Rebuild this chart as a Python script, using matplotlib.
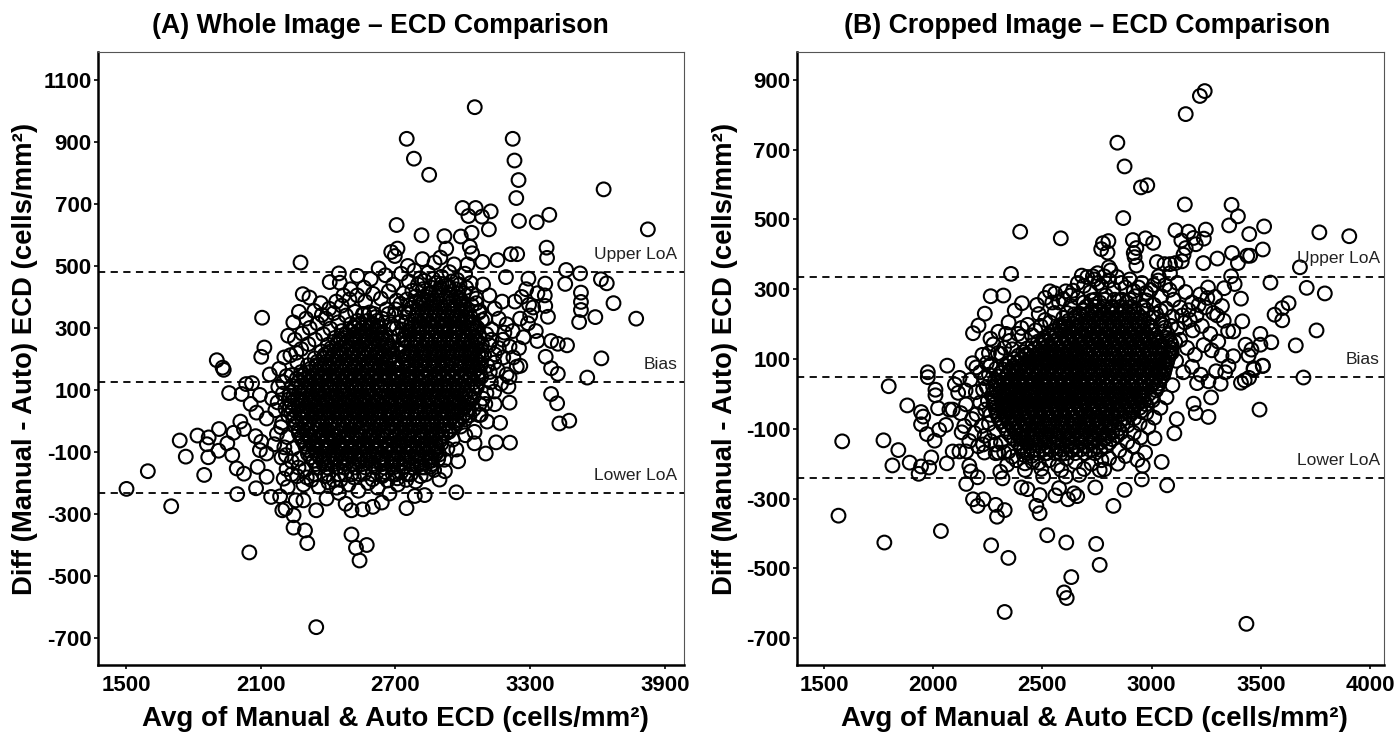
import matplotlib
matplotlib.use("Agg")
import matplotlib.pyplot as plt

plt.rcParams['font.family'] = ['Liberation Sans', 'DejaVu Sans']
plt.rcParams['axes.unicode_minus'] = False

# panel A, single circles (avg, diff)
a_sparse = [
    (3053,1012),(2750,910),(2782,846),(2850,794),(3222,910),(3230,840),(3248,777),(3238,719),(3250,645),
    (3329,641),(3385,665),(3627,747),(3824,618),(2999,687),(3025,661),(3057,687),(3085,659),(3124,676),
    (3116,618),(3039,607),(2991,595),(2918,596),(2816,599),(2705,632),(3031,562),(3041,541),(2926,556),
    (2709,556),(2681,545),(2697,532),(3214,538),(3242,538),(3373,559),(3375,526),(2277,511),(2820,522),
    (2900,527),(2874,511),(2961,505),(3021,505),(3087,513),(3154,519),(2755,500),(3460,487),(3522,476),
    (3615,457),(3641,444),(3456,442),(3671,380),(3772,330),(3590,335),(3518,319),(3526,414),(3526,384),
    (3526,358),(3367,443),(3365,405),(3192,464),(3292,459),(3282,425),(3332,412),(3367,371),(3313,366),
    (3379,336),(3393,258),(3423,249),(3464,244),(3617,202),(3369,207),(3332,258),(2106,333),(2448,476),
    (2407,448),(2452,446),(2287,409),(2317,398),(2367,380),(2116,237),(2102,207),(1904,196),(1930,172),
    (1502,-219),(1597,-162),(1701,-275),(1739,-63),(1766,-115),(1848,-174),(1818,-47),(1868,-53),(1860,-75),
    (1866,-117),(1912,-96),(1914,-26),(1935,165),(1959,90),(1951,-72),(1973,-110),(1979,-38),(2009,-2),
    (2025,-26),(1993,-153),(2025,-170),(1995,-236),(2079,-217),(2049,-424),(2077,-49),(2015,87),(2035,119),
    (2061,122),(2096,84),(2055,55),(2081,27),(2126,8),(2102,-67),(2096,-94),(2126,-105),(2086,-148),
    (2126,-180),(2146,-245),(2186,-243),(2202,-186),(2220,-213),(2196,-288),(2210,-283),(2246,-304),
    (2246,-344),(2297,-353),(2307,-394),(2256,-256),(2290,-256),(2347,-288),(2393,-250),(2448,-232),
    (2478,-267),(2504,-288),(2554,-285),(2599,-277),(2639,-263),(2673,-234),(2749,-281),(2786,-242),
    (2830,-239),(2971,-230),(2504,-366),(2572,-400),(2524,-409),(2540,-450),(2347,-665),(2896,-189),
    (2920,-162),(2979,-130),(2890,-123),(2884,-97),(2971,-92),(2931,-89),(3102,-105),(3052,-72),(3148,-69),
    (3210,-70),(3166,-6),(3108,-2),(3072,19),(3142,54),(3208,59),(3203,111),(3208,141),(3256,178),(3393,170),
    (3423,152),(3554,140),(3393,87),(3420,57),(3430,-8),(3474,1),(3011,-46),(3052,-35),
]

# panel A, the looser ring round the black centre
a_ring = [
    (2190,-20),(2165,35),(2150,72),(2178,110),(2140,150),(2182,168),(2205,205),(2160,-75),(2192,-118),
    (2215,-155),(2238,-130),(2262,-178),(2290,-205),(2325,-190),(2358,-212),(2402,-198),(2438,-215),
    (2490,-205),(2535,-225),(2578,-200),(2620,-215),(2665,-192),(2710,-205),(2748,-190),(2790,-195),
    (2835,-172),(2872,-158),(2918,-125),(2955,-60),(2990,-18),(3030,18),(3075,55),(3105,90),(3125,125),
    (3155,165),(3180,205),(3142,215),(3118,245),(3178,262),(3208,240),(3222,290),(3195,312),(3160,330),
    (3128,295),(3100,330),(3142,362),(3175,385),(3118,405),(3090,440),(3060,395),(3035,445),(3010,475),
    (2975,455),(2940,480),(2905,465),(2880,445),(2845,478),(2810,460),(2785,485),(2760,450),(2725,475),
    (2690,440),(2655,470),(2625,492),(2590,458),(2560,430),(2530,468),(2500,425),(2468,405),(2436,385),
    (2405,362),(2372,342),(2338,355),(2302,330),(2270,352),(2245,318),(2222,275),(2252,262),(2285,282),
    (2318,300),(2352,315),(2390,330),(2425,348),(2460,372),(2495,392),(2530,405),(2565,385),(2600,410),
    (2635,395),(2670,418),(2705,388),(2735,412),(2660,360),(2695,342),(2725,322),(2690,298),(2715,275),
    (3225,205),(3240,175),(3195,150),(3170,120),(3140,95),(3100,55),(3080,20),(3250,235),(3270,270),
    (3255,330),(3290,315),(3325,290),(3300,340),(3232,385),(3262,400),(3295,375),
    (2210,40),(2228,82),(2200,125),(2238,148),(2262,190),(2232,212),(2218,-52),(2245,-88),(2205,-85),
    (2272,-122),(2298,-158),(2342,-172),(2385,-178),(2455,-190),(2515,-182),(2560,-170),(2640,-178),
    (2688,-172),(2725,-165),(2815,-150),(2862,-128),(2905,-72),(2938,-35),(2968,0),(3005,42),(3038,70),
    (3062,108),(3082,142),(3110,178),(3095,212),(3128,262),(3105,280),(3072,350),(3040,372),(3005,412),
    (2968,425),(2930,438),(2895,420),(2858,410),(2822,425),(2790,402),(2765,375),(2742,350),
    (2640,210),(2665,232),(2690,255),(2712,228),(2735,262),(2655,280),(2680,312),(2705,300),(2730,295),
    (2748,318),(2620,305),(2642,330),(2668,345),(2700,360),(2722,378),(2752,392),(2640,262),(2610,335),
    (2585,350),(2555,345),(2520,352),(2480,340),(2445,318),(2410,298),(2378,280),(2342,262),(2312,248),
    (2280,232),(2258,220),(2760,345),(2775,420),(2800,440),(2830,452),(2868,458),(2905,442),(2950,450),
    (2985,440),(3015,430),(3040,410),(3060,380),(3075,355),(3085,325),(2770,365),(2790,385),(2815,395),
    (3000,380),(3020,360),(3035,335),(3050,315),(3065,300),(2985,395),(2672,198),(2700,190),(2655,172),
    (2175,60),(2198,88),(2215,145),(2172,-42),(2195,-5),(2222,18),(2212,-110),(2238,-172),(2268,-150),
    (2305,-182),(2425,-190),(2475,-172),(2598,-188),(2655,-165),(2708,-185),(2768,-172),(2812,-178),
    (2855,-148),(2895,-108),(3010,5),(3048,38),(3090,72),(3120,158),(3140,188),(3160,235),(3185,285),
]

a_core_diff = [-150,-128,-106,-84,-62,-40,-18,4,26,48,70,92,114,136,158,180,202,224,246,268,290,312,334,356,378,400,430]
a_core_avg = [
    [2360,2395,2440,2470,2520,2565,2610,2650,2690,2735,2780,2830],
    [2335,2375,2410,2455,2490,2540,2575,2625,2660,2705,2750,2800,2850],
    [2310,2350,2385,2425,2460,2500,2545,2585,2620,2670,2710,2755,2795,2840,2880],
    [2300,2335,2370,2405,2445,2480,2520,2555,2595,2635,2675,2720,2760,2800,2845,2885],
    [2285,2320,2355,2390,2430,2465,2500,2540,2575,2615,2650,2695,2735,2775,2815,2860,2900],
    [2270,2305,2345,2380,2415,2450,2490,2525,2565,2600,2640,2680,2720,2760,2800,2840,2885,2925],
    [2255,2295,2330,2365,2405,2440,2480,2515,2550,2590,2630,2665,2705,2745,2790,2830,2870,2915,2955],
    [2245,2285,2320,2355,2395,2430,2470,2505,2545,2580,2620,2660,2700,2740,2780,2820,2860,2905,2945,2985],
    [2235,2275,2310,2350,2385,2425,2460,2500,2535,2575,2610,2650,2690,2730,2770,2810,2855,2895,2935,2975,3015],
    [2230,2270,2305,2345,2380,2420,2455,2495,2530,2570,2605,2645,2685,2725,2765,2805,2850,2890,2930,2970,3010],
    [2225,2265,2300,2340,2375,2415,2450,2490,2525,2565,2600,2640,2680,2720,2760,2800,2845,2885,2925,2965,3005,3040],
    [2232,2272,2310,2348,2385,2422,2460,2498,2535,2572,2610,2648,2688,2728,2768,2808,2852,2892,2932,2972,3012,3050],
    [2240,2280,2318,2355,2392,2430,2468,2505,2542,2580,2618,2655,2695,2735,2775,2815,2858,2898,2938,2980,3020,3060],
    [2260,2298,2335,2372,2410,2448,2485,2522,2560,2598,2635,2672,2712,2752,2792,2835,2875,2915,2955,2995,3035,3070],
    [2280,2318,2355,2392,2430,2468,2505,2542,2580,2618,2655,2695,2735,2775,2815,2855,2895,2935,2975,3015,3050,3075],
    [2310,2348,2385,2422,2460,2498,2535,2572,2610,2650,2690,2730,2770,2810,2850,2890,2930,2970,3010,3045,3080],
    [2340,2378,2415,2452,2490,2528,2565,2602,2640,2678,2740,2780,2820,2860,2900,2940,2980,3020,3055,3085],
    [2370,2408,2445,2482,2520,2558,2595,2632,2670,2735,2775,2815,2855,2895,2935,2975,3015,3050,3085],
    [2400,2438,2475,2512,2550,2588,2625,2660,2730,2770,2810,2850,2890,2930,2970,3010,3045,3085],
    [2430,2468,2505,2542,2580,2615,2640,2740,2780,2820,2860,2900,2940,2980,3020,3055,3075],
    [2460,2498,2535,2572,2620,2760,2800,2840,2880,2920,2960,3000,3035,3060],
    [2500,2540,2600,2770,2810,2850,2890,2930,2970,3005,3040],
    [2790,2830,2870,2910,2950,2985,3020],
    [2800,2840,2880,2920,2960,3000],
    [2820,2860,2900,2945,2990],
    [2840,2885,2925,2970],
    [2860,2900,2940],
]

# second pass over panel A's cloud, rows between the first ones
a_core2_diff = [-172,-139,-117,-95,-73,-51,-29,-7,15,37,59,81,103,125,147,169,191,213,235,257,279,301,323,345,367,389,411]
a_core2_avg = [
    [2400,2447,2503,2541,2598,2643,2702,2752],
    [2345,2388,2427,2478,2512,2552,2598,2641,2682,2722,2771,2815,2862],
    [2322,2362,2402,2438,2477,2518,2557,2602,2643,2688,2730,2773,2818,2860],
    [2312,2347,2392,2432,2468,2510,2537,2568,2608,2652,2692,2738,2778,2822,2868],
    [2295,2332,2372,2411,2448,2483,2522,2558,2597,2631,2672,2713,2752,2797,2838,2881],
    [2282,2316,2361,2398,2433,2471,2507,2546,2582,2621,2661,2703,2741,2782,2821,2866,2908],
    [2268,2308,2349,2386,2422,2459,2498,2533,2571,2611,2648,2686,2727,2766,2811,2851,2893,2938],
    [2258,2302,2338,2374,2413,2449,2487,2526,2561,2601,2639,2681,2721,2761,2801,2842,2883,2926,2971],
    [2250,2292,2329,2368,2404,2442,2481,2518,2556,2593,2631,2671,2711,2752,2791,2833,2874,2916,2957,2999],
    [2242,2287,2324,2363,2399,2438,2477,2513,2552,2588,2627,2667,2707,2747,2787,2829,2871,2911,2951,2992,3028],
    [2238,2283,2321,2358,2396,2433,2472,2509,2547,2583,2622,2662,2702,2741,2783,2827,2866,2907,2947,2988,3024],
    [2246,2286,2326,2362,2403,2438,2476,2516,2553,2591,2629,2668,2709,2748,2788,2831,2872,2912,2953,2993,3033],
    [2252,2296,2334,2372,2409,2449,2484,2523,2561,2599,2636,2676,2716,2756,2796,2838,2878,2919,2959,3001,3042],
    [2268,2309,2346,2383,2421,2458,2496,2533,2571,2609,2647,2686,2724,2764,2806,2846,2887,2926,2967,3007,3049],
    [2291,2331,2367,2404,2442,2479,2516,2553,2592,2632,2671,2712,2752,2793,2834,2873,2913,2953,2994,3033,3066],
    [2322,2362,2398,2436,2473,2511,2549,2587,2624,2664,2708,2751,2791,2829,2869,2909,2949,2991,3029,3063],
    [2352,2391,2428,2466,2504,2541,2579,2617,2656,2694,2748,2792,2832,2872,2912,2952,2994,3034,3069],
    [2384,2422,2459,2497,2534,2572,2610,2648,2684,2752,2791,2831,2871,2911,2953,2992,3031,3068],
    [2413,2452,2489,2527,2565,2603,2641,2674,2745,2786,2826,2866,2908,2947,2987,3027,3063],
    [2445,2483,2522,2560,2597,2630,2662,2752,2794,2836,2876,2915,2956,2997,3036,3067],
    [2478,2516,2555,2595,2638,2765,2806,2846,2888,2927,2967,3006,3042],
    [2513,2552,2592,2630,2778,2818,2860,2901,2941,2980,3018,3050],
    [2530,2575,2618,2785,2825,2865,2905,2943,2978,3012],
    [2560,2605,2795,2836,2875,2915,2952,2993],
    [2808,2850,2890,2932,2975,3008],
    [2825,2868,2912,2955,2992],
    [2848,2892,2935,2978],
]

# third pass, centre of panel A only
a_core3_diff = [-122,-80,-46,-12,31,66,101,143,176,218,262,301]
a_core3_avg = [
    [2380,2432,2481,2533,2587,2638,2691,2742,2797],
    [2347,2396,2451,2503,2562,2611,2668,2717,2769,2821],
    [2318,2373,2424,2483,2531,2587,2643,2702,2752,2813,2862],
    [2301,2358,2412,2467,2522,2574,2633,2688,2748,2803,2861,2918],
    [2288,2344,2401,2458,2511,2568,2626,2678,2737,2796,2851,2909,2962],
    [2281,2337,2396,2451,2509,2561,2619,2677,2733,2792,2847,2906,2958],
    [2296,2352,2407,2462,2521,2578,2634,2692,2744,2803,2861,2917,2976],
    [2317,2371,2428,2484,2541,2596,2652,2711,2763,2822,2878,2933,2991],
    [2348,2403,2461,2518,2574,2629,2758,2815,2871,2927,2983,3032],
    [2397,2452,2508,2563,2615,2764,2823,2879,2936,2992,3041],
    [2458,2513,2566,2783,2842,2898,2953,3006],
    [2521,2582,2806,2859,2912,2968],
]

# panel B, single circles (avg, diff)
b_sparse = [
    (3243,868),(3221,854),(3156,802),(2843,720),(2876,652),(2951,592),(2980,598),(3152,543),(3366,542),
    (3395,509),(2870,504),(3355,483),(3515,480),(3447,458),(3768,463),(3905,452),(2398,465),(2584,446),
    (3109,469),(3169,465),(3248,471),(3239,445),(3192,447),(3136,440),(3202,429),(2972,446),(3007,433),
    (2914,441),(2802,438),(2777,432),(2769,415),(2798,405),(2930,418),(2918,404),(2922,392),(2930,368),
    (3156,418),(3146,399),(3138,380),(3509,414),(3451,396),(3438,396),(3368,404),(3301,388),(3237,375),
    (3395,375),(3024,378),(3059,372),(3084,372),(3109,375),(3679,363),(2804,363),(2812,354),(2356,344),
    (2680,339),(2752,346),(2731,337),(2783,337),(3032,337),(3084,346),(3364,337),(3380,315),(3544,319),
    (3710,304),(3793,288),(3627,260),(3598,246),(3563,227),(3598,211),(3755,182),(3660,139),(3548,148),
    (3498,172),(3430,141),(3457,127),(3498,141),(3444,110),(3374,108),(3415,208),(3374,179),(3409,273),
    (3332,303),(2263,280),(2321,282),(2406,260),(2373,239),(2236,230),(2207,196),(2182,174),(2483,229),
    (2534,294),(2545,262),(2576,262),(2607,294),(2333,172),(2404,189),(2064,81),(2197,76),(2255,117),
    (2296,117),(3509,81),(3467,74),(1796,22),(1975,62),(1975,48),(1881,-33),(1944,-52),(1954,-65),(1944,-87),
    (2010,12),(2010,-4),(2022,-41),(1971,-115),(2027,-103),(2006,-134),(2058,-89),(1583,-136),(1772,-133),
    (1840,-161),(1813,-205),(1892,-197),(1944,-208),(1981,-211),(1991,-182),(2062,-199),(1933,-229),
    (1566,-349),(1776,-426),(2035,-393),(2265,-434),(2344,-470),(2327,-625),(2522,-405),(2609,-426),
    (2599,-569),(2611,-585),(2632,-525),(2746,-430),(2762,-490),(3434,-659),(3494,-45),(3695,47),(3272,-10),
    (3192,-28),(3202,-55),(3260,-66),(3115,-72),(3104,-113),(3013,-127),(3046,-195),(3071,-262),(2955,-245),
    (2970,-168),(2935,-189),(2959,-206),(2876,-275),(2825,-321),(2742,-268),(2659,-293),(2644,-285),
    (2617,-302),(2576,-270),(2559,-291),(2487,-290),(2472,-321),(2487,-342),(2431,-273),(2404,-268),
    (2327,-333),(2286,-318),(2292,-352),(2230,-302),(2182,-302),(2203,-321),(2151,-258),(2203,-239),
    (2172,-222),(2165,-206),(2317,-242),(2307,-223),(2338,-203),(2420,-199),(2420,-218),(2483,-197),
    (2503,-237),(2586,-218),(2607,-237),(2669,-232),(2762,-218),(2783,-216),(2089,-165),(2120,-165),
    (2151,-165),(2234,-168),(2286,-170),(2089,-45),(2074,-45),(2099,27),(2120,46),(2114,3),(3208,31),
    (3260,36),(3316,29),(3295,65),(3337,62),(3409,32),(3426,39),(3446,46),(3467,70),(3509,80),
]

# panel B, the looser ring round the black centre
b_ring = [
    (2150,-30),(2178,-72),(2130,-110),(2165,-135),(2205,-150),(2235,-120),(2255,-85),(2195,5),(2170,40),
    (2215,62),(2245,88),(2275,142),(2310,115),(2350,152),(2388,172),(2432,198),(2468,182),(2512,212),
    (2555,232),(2595,218),(2630,252),(2662,275),(2640,296),(2690,310),(2720,292),(2755,318),(2790,282),
    (2825,300),(2860,318),(2900,328),(2940,305),(2975,290),(3010,312),(3045,280),(3082,298),(3118,318),
    (3155,292),(3185,262),(3222,285),(3258,305),(3290,278),(3322,252),(3282,232),(3245,248),(3205,225),
    (3170,240),(3130,248),(3095,222),(3065,245),(3118,188),(3152,205),(3188,182),(3230,195),(3268,172),
    (3305,150),(3275,125),(3238,140),(3198,112),(3162,132),(3130,155),(3112,95),(3145,62),(3185,78),
    (3225,55),(3095,25),(3068,-10),(3040,-40),(3012,-68),(2985,-95),(2950,-125),(2915,-150),(2880,-178),
    (2845,-200),(2805,-185),(2770,-190),(2725,-200),(2690,-215),(2650,-195),(2610,-185),(2570,-205),
    (2530,-190),(2495,-215),(2455,-195),(2415,-175),(2380,-190),(2345,-165),(2310,-140),(2280,-110),
    (2262,-60),(2250,-20),(2245,20),(2255,55),(2725,268),(2690,262),(2850,268),(2975,268),(3010,255),
    (3330,210),(3350,180),(3320,110),(3352,80),
    (2215,-25),(2198,-58),(2222,-92),(2238,-45),(2228,12),(2235,45),(2262,82),(2288,72),(2325,132),
    (2362,128),(2405,165),(2452,168),(2492,195),(2535,205),(2578,195),(2612,232),(2645,228),(2685,240),
    (2762,262),(2815,248),(2885,262),(2925,280),(2962,248),(3042,238),(3088,195),(3108,148),(3092,118),
    (3058,92),(3042,62),(3022,20),(3005,-18),(2975,-55),(2945,-85),(2918,-112),(2888,-138),(2852,-162),
    (2285,-145),(2325,-168),(2362,-180),(2402,-155),(2450,-178),(2512,-170),(2582,-172),(2632,-162),
    (2475,255),(2512,275),(2558,288),(2595,272),(2628,282),(2662,318),(2705,335),(2738,328),(2770,308),
    (2805,325),(2842,335),(2880,305),(2918,295),(2955,318),(2995,298),(3030,325),(3062,312),(3100,270),
    (3140,225),(3175,212),(3215,255),(3255,275),(3300,225),(2345,205),(2298,178),(2262,158),(2225,112),
    (2180,88),(2148,10),(2125,-55),(2142,-92),(2188,-112),(2228,-145),(2262,-135),(2298,-168),
]

b_core_diff = [-170,-150,-130,-110,-90,-70,-50,-30,-10,10,30,50,70,90,110,130,150,170,190,210,230,250,270]
b_core_avg = [
    [2430,2475,2520,2560,2605,2650,2695,2740],
    [2400,2440,2485,2525,2570,2610,2655,2700,2745,2790],
    [2370,2410,2450,2490,2530,2575,2615,2660,2700,2740,2780,2820],
    [2340,2378,2415,2455,2495,2535,2575,2615,2655,2695,2735,2775,2820,2860],
    [2320,2358,2395,2432,2470,2510,2548,2588,2628,2668,2708,2748,2790,2830,2890],
    [2300,2338,2372,2410,2448,2485,2522,2560,2598,2635,2672,2710,2750,2790,2830,2875,2920],
    [2290,2325,2360,2395,2430,2468,2505,2540,2578,2615,2650,2688,2725,2762,2800,2840,2880,2915,2950],
    [2280,2315,2350,2385,2420,2455,2492,2528,2562,2598,2635,2670,2708,2745,2782,2820,2860,2898,2935,2975],
    [2280,2312,2345,2380,2415,2450,2485,2520,2555,2590,2625,2660,2695,2730,2768,2805,2842,2880,2918,2958,3000],
    [2280,2315,2348,2382,2418,2452,2488,2522,2558,2592,2628,2662,2698,2732,2770,2808,2845,2882,2920,2960,3020],
    [2290,2325,2358,2392,2428,2462,2498,2532,2568,2602,2638,2672,2708,2742,2780,2818,2855,2892,2930,2968,3005,3035],
    [2300,2335,2370,2405,2440,2475,2510,2545,2580,2615,2650,2685,2720,2758,2795,2832,2870,2908,2945,2982,3020,3050],
    [2320,2355,2390,2425,2460,2495,2530,2565,2600,2635,2670,2705,2742,2780,2818,2855,2892,2930,2968,3005,3035,3060],
    [2350,2385,2420,2455,2490,2525,2560,2595,2630,2665,2700,2738,2775,2812,2850,2888,2925,2962,3000,3035,3070],
    [2390,2425,2460,2495,2530,2565,2600,2635,2670,2705,2742,2780,2818,2855,2892,2930,2968,3005,3045,3080],
    [2430,2465,2500,2535,2570,2605,2640,2675,2712,2750,2788,2825,2862,2900,2938,2975,3015,3055,3090],
    [2480,2515,2550,2585,2620,2658,2695,2732,2770,2808,2845,2882,2920,2958,2995,3035,3085],
    [2530,2565,2600,2638,2675,2712,2750,2788,2825,2862,2900,2938,2975,3015,3075],
    [2580,2618,2655,2692,2730,2768,2805,2842,2880,2918,2955,2995,3060],
    [2620,2660,2698,2735,2772,2810,2848,2885,2925,2965,3050],
    [2670,2708,2745,2782,2820,2858,2895,2935,3020],
    [2700,2740,2780,2820,2860,2905,2960],
    [2740,2785,2830,2865,2900],
]

# second pass over panel B's cloud, rows between the first ones
b_core2_diff = [-160,-140,-120,-100,-80,-60,-40,-20,0,20,40,60,80,100,120,140,160,180,200,220,240]
b_core2_avg = [
    [2415,2458,2503,2541,2588,2629,2672,2718,2765],
    [2388,2427,2468,2508,2551,2593,2636,2678,2722,2763,2806],
    [2355,2393,2432,2472,2513,2553,2597,2637,2678,2718,2759,2801,2842],
    [2332,2368,2404,2443,2482,2522,2561,2602,2641,2681,2721,2762,2804,2848],
    [2309,2346,2384,2421,2458,2497,2535,2574,2612,2651,2691,2729,2769,2811,2855],
    [2294,2331,2366,2402,2439,2476,2513,2551,2588,2625,2661,2699,2738,2776,2815,2856,2902],
    [2284,2319,2354,2389,2425,2461,2497,2533,2569,2606,2642,2679,2716,2753,2791,2830,2869,2907,2945],
    [2278,2313,2347,2382,2417,2453,2488,2524,2559,2594,2630,2665,2701,2737,2775,2812,2851,2889,2926,2966],
    [2272,2306,2342,2376,2411,2447,2481,2517,2551,2587,2622,2657,2692,2727,2764,2801,2838,2876,2913,2952,2988],
    [2274,2309,2344,2378,2413,2449,2483,2519,2553,2589,2624,2659,2694,2729,2766,2803,2841,2878,2916,2955,2992,3026],
    [2284,2319,2353,2388,2422,2458,2493,2527,2563,2598,2633,2668,2703,2738,2775,2813,2851,2888,2925,2963,3002,3038],
    [2308,2343,2378,2413,2448,2483,2518,2553,2588,2623,2658,2694,2731,2769,2806,2844,2881,2919,2957,2994,3032,3056],
    [2332,2368,2404,2439,2475,2511,2547,2583,2618,2653,2689,2725,2763,2801,2838,2876,2913,2951,2988,3024,3064],
    [2372,2407,2443,2478,2514,2548,2584,2619,2654,2689,2726,2763,2802,2839,2877,2914,2951,2988,3026,3074],
    [2412,2448,2483,2518,2553,2588,2624,2659,2696,2733,2771,2808,2846,2884,2921,2958,2996,3034,3084],
    [2456,2491,2526,2562,2597,2633,2669,2706,2743,2781,2818,2856,2893,2931,2969,3007,3046,3092],
    [2506,2541,2576,2612,2648,2685,2722,2760,2797,2835,2873,2911,2948,2986,3024,3072],
    [2556,2592,2628,2665,2702,2739,2777,2815,2853,2890,2928,2966,3005,3058],
    [2606,2643,2681,2718,2756,2793,2831,2868,2906,2944,2984,3042],
    [2648,2686,2724,2761,2799,2836,2874,2911,2950,3006],
    [2688,2727,2764,2802,2841,2880,2922,2978],
]

# third pass, centre of panel B only
b_core3_diff = [-127,-88,-47,-6,34,73,114,153,194]
b_core3_avg = [
    [2402,2458,2512,2566,2621,2678,2731,2786],
    [2364,2421,2477,2533,2589,2644,2703,2757,2812,2868],
    [2338,2396,2452,2509,2563,2619,2676,2732,2791,2846,2903],
    [2326,2382,2438,2497,2552,2608,2664,2721,2778,2837,2893,2949],
    [2341,2397,2453,2511,2567,2623,2679,2736,2794,2851,2908,2964,3012],
    [2372,2428,2484,2539,2597,2653,2709,2767,2824,2881,2938,2995,3041],
    [2426,2483,2538,2594,2651,2707,2764,2821,2879,2936,2992,3047],
    [2503,2558,2616,2672,2729,2786,2843,2901,2958,3014],
    [2598,2654,2711,2768,2826,2883,2941,2996],
]

a_bias, a_upper, a_lower = 125, 480, -233
b_bias, b_upper, b_lower = 48, 336, -242

a_xticks = [1500, 2100, 2700, 3300, 3900]
a_yticks = [1100, 900, 700, 500, 300, 100, -100, -300, -500, -700]
b_xticks = [1500, 2000, 2500, 3000, 3500, 4000]
b_yticks = [900, 700, 500, 300, 100, -100, -300, -500, -700]

xlabel = "Avg of Manual & Auto ECD (cells/mm²)"
ylabel = "Diff (Manual - Auto) ECD (cells/mm²)"


def draw_panel(ax, sparse, ring, rows, lines, xticks, yticks, xlim, ylim, title, title_x, label_x, ylab_x):
    xs = [p[0] for p in sparse + ring]
    ys = [p[1] for p in sparse + ring]
    for diffs, avgs in rows:
        for d, row in zip(diffs, avgs):
            xs += row
            ys += [d] * len(row)
    ax.scatter(xs, ys, s=98, facecolors="none", edgecolors="black", linewidths=1.5, zorder=2)

    bias, upper, lower = lines
    for val, name in [(upper, "Upper LoA"), (bias, "Bias"), (lower, "Lower LoA")]:
        ax.axhline(val, color="black", linestyle=(0, (4, 3)), linewidth=1.3, zorder=3)
        ax.text(label_x, val + (ylim[1] - ylim[0]) * 0.017, name, ha="right", va="bottom",
                fontsize=12.5, color="#222222")

    ax.set_xlim(xlim)
    ax.set_ylim(ylim)
    ax.set_xticks(xticks)
    ax.set_yticks(yticks)
    ax.tick_params(axis="x", length=3, width=1.2, labelsize=16, pad=4.5)
    ax.tick_params(axis="y", length=3, width=1.2, labelsize=16, pad=1.5)
    for lab in ax.get_xticklabels() + ax.get_yticklabels():
        lab.set_fontweight("bold")
    ax.spines["left"].set_linewidth(1.8)
    ax.spines["bottom"].set_linewidth(1.8)
    ax.spines["top"].set_linewidth(0.8)
    ax.spines["right"].set_linewidth(0.8)
    ax.spines["top"].set_color("#555555")
    ax.spines["right"].set_color("#555555")
    ax.set_xlabel(xlabel, fontsize=20, fontweight="bold", labelpad=7, x=0.507)
    ax.set_ylabel(ylabel, fontsize=19.8, fontweight="bold")
    ax.yaxis.set_label_coords(ylab_x, 0.5)
    ax.set_title(title, fontsize=19.2, fontweight="bold", pad=14, x=title_x)


fig = plt.figure(figsize=(13.97, 7.34), dpi=100)
ax_a = fig.add_axes([98 / 1397, 69 / 734, 586 / 1397, 613 / 734])
ax_b = fig.add_axes([797 / 1397, 69 / 734, 587 / 1397, 613 / 734])

draw_panel(ax_a, a_sparse, a_ring,
           [(a_core_diff, a_core_avg), (a_core2_diff, a_core2_avg), (a_core3_diff, a_core3_avg)],
           (a_bias, a_upper, a_lower), a_xticks, a_yticks, (1375, 3985), (-787, 1190),
           "(A) Whole Image – ECD Comparison", 0.482, 3955, -0.102)
draw_panel(ax_b, b_sparse, b_ring,
           [(b_core_diff, b_core_avg), (b_core2_diff, b_core2_avg), (b_core3_diff, b_core3_avg)],
           (b_bias, b_upper, b_lower), b_xticks, b_yticks, (1376, 4064), (-777, 980),
           "(B) Cropped Image – ECD Comparison", 0.494, 4045, -0.1)

fig.savefig("out.png", dpi=100)
